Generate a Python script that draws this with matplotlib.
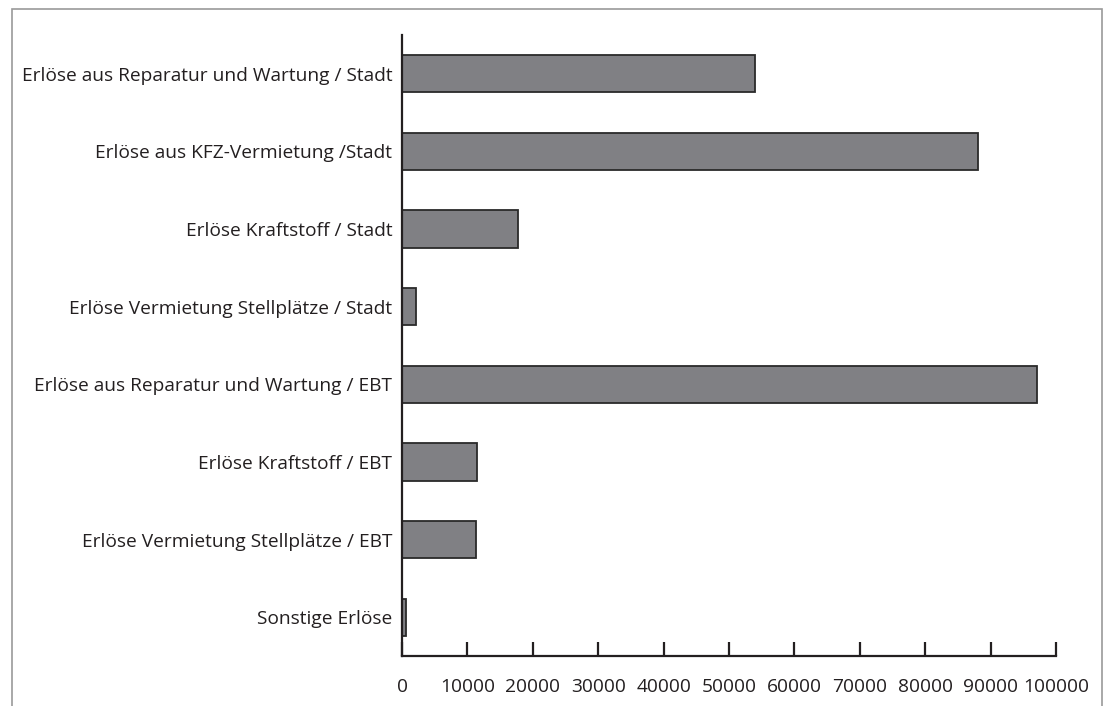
import matplotlib.pyplot as plt
from matplotlib.patches import Rectangle

# Erlöse nach Kategorie (EUR)
kategorien = [
    "Erlöse aus Reparatur und Wartung / Stadt",
    "Erlöse aus KFZ-Vermietung /Stadt",
    "Erlöse Kraftstoff / Stadt",
    "Erlöse Vermietung Stellplätze / Stadt",
    "Erlöse aus Reparatur und Wartung / EBT",
    "Erlöse Kraftstoff / EBT",
    "Erlöse Vermietung Stellplätze / EBT",
    "Sonstige Erlöse",
]
werte = [54000, 88000, 17700, 2100, 97100, 11500, 11300, 550]
xticks = [0, 10000, 20000, 30000, 40000, 50000, 60000, 70000, 80000, 90000, 100000]

plt.rcParams['font.family'] = ['Open Sans', 'DejaVu Sans']

fig = plt.figure(figsize=(11.08, 7.06), dpi=100)
ax = fig.add_axes([402 / 1108, 1 - 656 / 706, 654 / 1108, 621 / 706])

pos = list(range(len(kategorien)))
ax.barh(pos, werte, height=0.48, color="#808084", edgecolor="#2a2a2a", linewidth=1.3)

ax.set_ylim(len(kategorien) - 0.5, -0.5)
ax.set_xlim(0, 100000)
ax.set_yticks(pos)
ax.set_yticklabels(kategorien, fontsize=13.8, color="#231f20")
ax.set_xticks(xticks)
ax.set_xticklabels([str(t) for t in xticks], fontsize=13.8, color="#231f20")

ax.tick_params(axis="y", length=0, pad=7)
ax.tick_params(axis="x", direction="in", length=10, width=1.6, color="#231f20", pad=16)

for s in ["top", "right"]:
    ax.spines[s].set_visible(False)
for s in ["left", "bottom"]:
    ax.spines[s].set_linewidth(1.6)
    ax.spines[s].set_color("#231f20")

# grauer Rahmen um die Grafik
fig.patches.append(Rectangle((12 / 1108, -0.1), 1090 / 1108, 1.1 - 9 / 706,
                             transform=fig.transFigure, fill=False,
                             edgecolor="#9a9a9a", linewidth=1.2))

fig.savefig("out.png", dpi=100)
